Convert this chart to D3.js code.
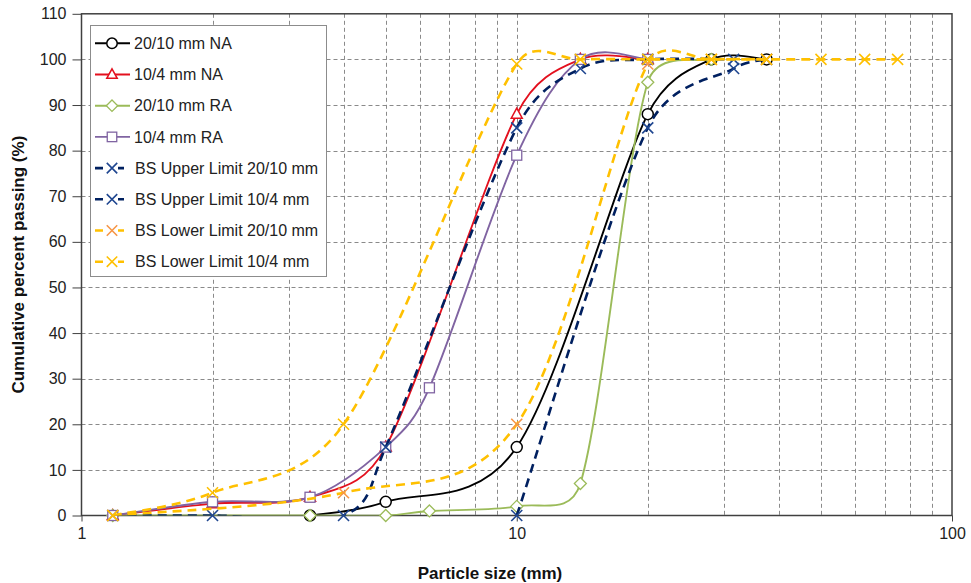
<!DOCTYPE html>
<html><head><meta charset="utf-8">
<script src="https://cdn.jsdelivr.net/npm/d3@7"></script>
<style>
body{margin:0;background:#fff}
svg{display:block;font-family:"Liberation Sans",Arial,sans-serif}
</style>
</head><body>
<svg id="chart" width="971" height="583"></svg>
<script>
// ---------- data ----------
const xTickValues = [1, 10, 100];
const yTickValues = [0, 10, 20, 30, 40, 50, 60, 70, 80, 90, 100, 110];
const xGridValues = [2,3,4,5,6,7,8,9,10,20,30,40,50,60,70,80,90];

const seriesLabels = ["20/10 mm NA", "10/4 mm NA", "20/10 mm RA", "10/4 mm RA",
  "BS Upper Limit 20/10 mm", "BS Upper Limit 10/4 mm", "BS Lower Limit 20/10 mm", "BS Lower Limit 10/4 mm"];

const na2010Size = [3.35, 5, 10, 20, 28, 37.5];
const na2010Pass = [0, 3, 15, 88, 100, 100];

const na104Size = [1.18, 2, 3.35, 5, 10, 14, 20];
const na104Pass = [0, 2.6, 4, 15, 88, 100, 100];

const ra2010Size = [1.18, 3.35, 5, 6.3, 10, 14, 20, 28];
const ra2010Pass = [0, 0, 0, 1, 2, 7, 95, 100];

const ra104Size = [1.18, 2, 3.35, 5, 6.3, 10, 14, 20];
const ra104Pass = [0, 3, 4, 15, 28, 79, 100, 100];

const upper2010Size = [10, 20, 31.5, 37.5];
const upper2010Pass = [0, 85, 98, 100];

const upper104Size = [1.18, 2, 4, 5, 10, 14, 20, 31.5];
const upper104Pass = [0, 0, 0, 15, 85, 98, 100, 100];

const lower2010Size = [1.18, 4, 10, 20, 28, 37.5];
const lower2010Pass = [0, 5, 20, 99, 100, 100];

const lower104Size = [1.18, 2, 4, 10, 14, 20, 28, 37.5, 50, 63, 75];
const lower104Pass = [0, 5, 20, 99, 100, 100, 100, 100, 100, 100, 100];

// ---------- styles ----------
const styles = [
  {line:"#000000", marker:"circle",   mcolor:"#000000", dash:null},
  {line:"#E3101E", marker:"triangle", mcolor:"#E3101E", dash:null},
  {line:"#9BBB59", marker:"diamond",  mcolor:"#9BBB59", dash:null},
  {line:"#8064A2", marker:"square",   mcolor:"#8064A2", dash:null},
  {line:"#002060", marker:"x",        mcolor:"#1F4690", dash:"9,6"},
  {line:"#002060", marker:"x",        mcolor:"#1F4690", dash:"9,6"},
  {line:"#FFC000", marker:"x",        mcolor:"#F79646", dash:"9,6"},
  {line:"#FFC000", marker:"x",        mcolor:"#FFC000", dash:"9,6"}
];

const seriesData = [
  [na2010Size, na2010Pass], [na104Size, na104Pass], [ra2010Size, ra2010Pass], [ra104Size, ra104Pass],
  [upper2010Size, upper2010Pass], [upper104Size, upper104Pass], [lower2010Size, lower2010Pass], [lower104Size, lower104Pass]
].map(([xs, ys], i) => ({
  name: seriesLabels[i],
  style: styles[i],
  points: xs.map((x, j) => ({x, y: ys[j]}))
}));

// ---------- layout ----------
const svg = d3.select("#chart");
const L = 81.5, R = 952, T = 13.8, B = 515.5;
const x = d3.scaleLog().domain([1, 100]).range([L, R]);
const y = d3.scaleLinear().domain([0, 110]).range([B, T]);

svg.append("defs").append("clipPath").attr("id", "plotClip")
  .append("rect").attr("x", L).attr("y", T).attr("width", R - L).attr("height", B - T);

// grid
const grid = svg.append("g").attr("stroke", "#8a8a8a").attr("stroke-width", 1).attr("stroke-dasharray", "4,3");
grid.selectAll("line.h").data(yTickValues.filter(v => v > 0 && v < 110)).join("line")
  .attr("x1", L).attr("x2", R).attr("y1", d => Math.round(y(d)) + 0.5).attr("y2", d => Math.round(y(d)) + 0.5);
grid.selectAll("line.v").data(xGridValues).join("line")
  .attr("y1", T).attr("y2", B).attr("x1", d => Math.round(x(d)) + 0.5).attr("x2", d => Math.round(x(d)) + 0.5);

// axes
const yAxis = d3.axisLeft(y).tickValues(yTickValues).tickSize(9).tickPadding(6).tickFormat(d3.format("d"));
const gy = svg.append("g").attr("transform", `translate(${L},0)`).call(yAxis);
gy.select(".domain").remove();
gy.selectAll(".tick line").attr("stroke", "#404040");
gy.selectAll("text").attr("font-size", 16).attr("fill", "#222").attr("font-family", "Liberation Sans, Arial, sans-serif");

const xAxis = d3.axisBottom(x).tickValues(xTickValues).tickSize(6).tickPadding(6).tickFormat(d3.format("d"));
const gx = svg.append("g").attr("transform", `translate(0,${B})`).call(xAxis);
gx.select(".domain").remove();
gx.selectAll(".tick line").attr("stroke", "#404040");
gx.selectAll("text").attr("font-size", 16).attr("fill", "#222").attr("font-family", "Liberation Sans, Arial, sans-serif");

// frame
svg.append("rect").attr("x", L).attr("y", T).attr("width", R - L).attr("height", B - T)
  .attr("fill", "none").attr("stroke", "#404040").attr("stroke-width", 1.5);

// axis titles
svg.append("text").attr("x", 490).attr("y", 579).attr("text-anchor", "middle")
  .attr("font-size", 17).attr("font-weight", "bold").attr("fill", "#111").text("Particle size (mm)");
svg.append("text").attr("transform", `translate(24,${(T + B) / 2}) rotate(-90)`).attr("text-anchor", "middle")
  .attr("font-size", 17).attr("font-weight", "bold").attr("fill", "#111").text("Cumulative percent passing (%)");

// marker drawing
function drawMarker(g, type, color, cx, cy, s) {
  s = s || 1;
  if (type === "circle") {
    g.append("circle").attr("cx", cx).attr("cy", cy).attr("r", 5.5 * s)
      .attr("fill", "#fff").attr("stroke", color).attr("stroke-width", 1.5);
  } else if (type === "triangle") {
    g.append("path").attr("d", `M${cx},${cy - 6 * s}L${cx + 5.5 * s},${cy + 4 * s}L${cx - 5.5 * s},${cy + 4 * s}Z`)
      .attr("fill", "#fff").attr("stroke", color).attr("stroke-width", 1.5);
  } else if (type === "diamond") {
    g.append("path").attr("d", `M${cx},${cy - 6 * s}L${cx + 6 * s},${cy}L${cx},${cy + 6 * s}L${cx - 6 * s},${cy}Z`)
      .attr("fill", "#fff").attr("stroke", color).attr("stroke-width", 1.3);
  } else if (type === "square") {
    g.append("rect").attr("x", cx - 5 * s).attr("y", cy - 5 * s).attr("width", 10 * s).attr("height", 10 * s)
      .attr("fill", "#fff").attr("stroke", color).attr("stroke-width", 1.3);
  } else if (type === "x") {
    const h = 5.5 * s;
    g.append("path").attr("d", `M${cx - h},${cy - h}L${cx + h},${cy + h}M${cx - h},${cy + h}L${cx + h},${cy - h}`)
      .attr("fill", "none").attr("stroke", color).attr("stroke-width", 1.6);
  }
}

// spreadsheet-style smoothed line (Bezier with control arms limited to half the segment)
function smoothPath(points) {
  const pts = points.map(d => [x(d.x), y(d.y)]);
  const n = pts.length;
  const p = d3.path();
  p.moveTo(pts[0][0], pts[0][1]);
  const dist = (a, b) => Math.hypot(b[0] - a[0], b[1] - a[1]);
  for (let i = 0; i < n - 1; i++) {
    const p0 = pts[Math.max(i - 1, 0)], p1 = pts[i], p2 = pts[i + 1], p3 = pts[Math.min(i + 2, n - 1)];
    const d12 = dist(p1, p2), d02 = dist(p0, p2), d13 = dist(p1, p3);
    let f1 = 1 / 6, f2 = 1 / 6;
    if (d02 / 6 > d12 / 2) f1 = (d12 / 2) / d02;
    if (d13 / 6 > d12 / 2) f2 = (d12 / 2) / d13;
    const c1 = [p1[0] + (p2[0] - p0[0]) * f1, p1[1] + (p2[1] - p0[1]) * f1];
    const c2 = [p2[0] - (p3[0] - p1[0]) * f2, p2[1] - (p3[1] - p1[1]) * f2];
    p.bezierCurveTo(c1[0], c1[1], c2[0], c2[1], p2[0], p2[1]);
  }
  return p.toString();
}

// series
const plot = svg.append("g");
seriesData.forEach(s => {
  const g = plot.append("g");
  g.append("path").attr("d", smoothPath(s.points)).attr("fill", "none")
    .attr("clip-path", "url(#plotClip)")
    .attr("stroke", s.style.line).attr("stroke-width", s.style.dash ? 2.6 : 1.9)
    .attr("stroke-dasharray", s.style.dash);
  s.points.forEach(p => drawMarker(g, s.style.marker, s.style.mcolor, x(p.x), y(p.y)));
});

// legend
const lg = svg.append("g");
lg.append("rect").attr("x", 90.5).attr("y", 25.5).attr("width", 236).attr("height", 251)
  .attr("fill", "#fff").attr("stroke", "#8c8c8c").attr("stroke-width", 1);
seriesData.forEach((s, i) => {
  const cy = 43.3 + i * 31.2;
  const row = lg.append("g");
  if (s.style.dash) {
    row.append("line").attr("x1", 95).attr("x2", 124).attr("y1", cy).attr("y2", cy)
      .attr("stroke", s.style.line).attr("stroke-width", 2.6).attr("stroke-dasharray", "8,15");
  } else {
    row.append("line").attr("x1", 95).attr("x2", 130).attr("y1", cy).attr("y2", cy)
      .attr("stroke", s.style.line).attr("stroke-width", 1.9);
  }
  drawMarker(row, s.style.marker, s.style.mcolor, 112, cy, 0.95);
  row.append("text").attr("x", s.style.dash ? 135 : 134).attr("y", cy).attr("dy", "0.35em")
    .attr("font-size", 16).attr("fill", "#222").text(s.name);
});
</script>
</body></html>
